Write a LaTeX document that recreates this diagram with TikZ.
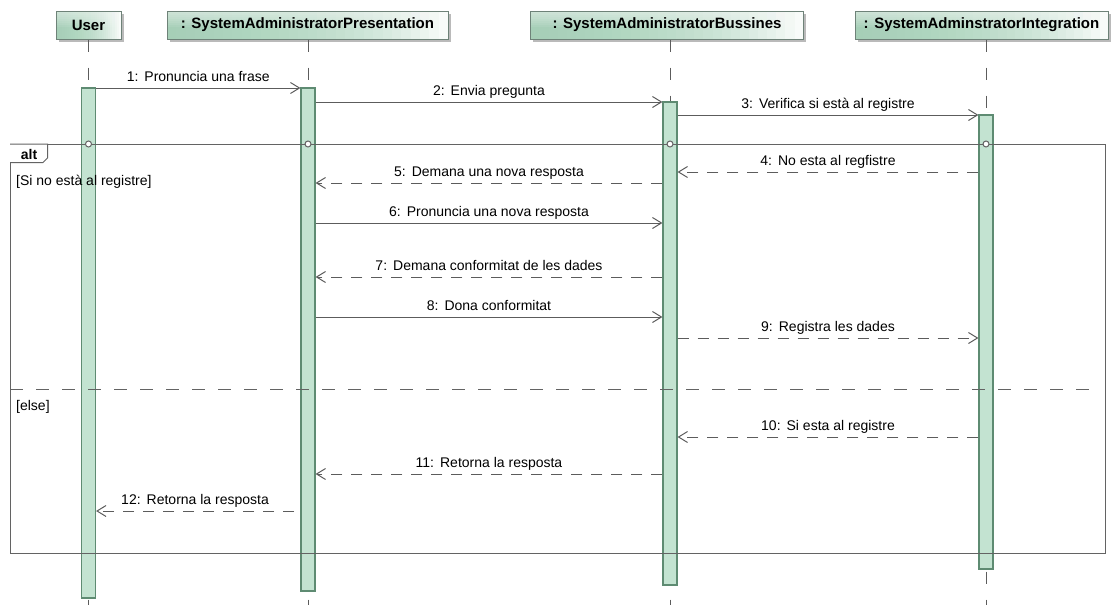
\documentclass[tikz,border=0pt]{standalone}
\usepackage{fontspec}
\setmainfont{Liberation Sans}
\usetikzlibrary{arrows.meta,shadows,calc}

\definecolor{barfill}{HTML}{C3E3D1}
\definecolor{barline}{HTML}{5E8B72}
\definecolor{hdrgreen}{HTML}{9FCFB3}
\definecolor{hdrline}{HTML}{6E8278}
\definecolor{wire}{HTML}{5C5C5C}
\definecolor{framecol}{HTML}{636363}

% wider gap after the sequence number
\newcommand\msgsep{\hspace{6pt}}

% gradient inside a header box: green towards the left, lighter towards the top
\newcommand\hdrgrad[1]{%
  \foreach \k in {1,...,30}{%
    \fill[hdrgreen, opacity=0.065]
      (#1.south west) rectangle ($(#1.north west)!{\k/30}!(#1.north east)$);
  }%
  \foreach \k in {1,...,8}{%
    \fill[white, opacity=0.08]
      (#1.north west) rectangle ($(#1.north east)!{\k/14}!(#1.south east)$);
  }%
}

\begin{document}
\begin{tikzpicture}[x=1pt,y=-1pt,
  hdrbase/.style={fill=white, minimum height=28pt, inner sep=0pt,
    drop shadow={shadow xshift=2.5pt, shadow yshift=-2.5pt, fill=black!45, opacity=0.6}},
  hdrtop/.style={draw=hdrline, line width=1pt, minimum height=28pt, inner sep=0pt,
    font=\fontsize{15}{18}\selectfont\bfseries},
  bar/.style={draw=barline, fill=barfill, line width=1.2pt, minimum width=14pt, inner sep=0pt},
  lifeline/.style={draw=wire, line width=1pt, dash pattern=on 12pt off 16pt},
  call/.style={draw=wire, line width=1pt, -{Straight Barb[length=9pt,width=11pt,line width=1pt]}},
  reply/.style={call, dash pattern=on 11pt off 9pt},
  lbl/.style={font=\fontsize{14}{17}\selectfont, inner sep=0pt, text=black},
  frame/.style={draw=framecol, line width=1pt},
]
\useasboundingbox (0,0) rectangle (1111,605);

% activation bars (also fix the lifeline positions)
\path
  node[bar, minimum height=510pt] (uA) at (88.5,343) {}
  node[bar, minimum height=503pt] (pA) at (308,339.5) {}
  node[bar, minimum height=483pt] (bA) at (670,343.5) {}
  node[bar, minimum height=454pt] (iA) at (986,342) {};

% participant header boxes: shadow and background
\node[hdrbase, minimum width=65pt]  (uH) at (88.5,25)  {};
\node[hdrbase, minimum width=281pt] (pH) at (307.5,25) {};
\node[hdrbase, minimum width=273pt] (bH) at (667,25)   {};
\node[hdrbase, minimum width=253pt] (iH) at (981.5,25) {};
\hdrgrad{uH}\hdrgrad{pH}\hdrgrad{bH}\hdrgrad{iH}
% participant header borders and names
\node[hdrtop, minimum width=65pt]  (uT) at (uH) {User};
\node[hdrtop, minimum width=281pt] (pT) at (pH) {: SystemAdministratorPresentation};
\node[hdrtop, minimum width=273pt] (bT) at (bH) {: SystemAdministratorBussines};
\node[hdrtop, minimum width=253pt] (iT) at (iH) {: SystemAdminstratorIntegration};

% lifelines
\foreach \a/\h in {uA/uT, pA/pT, bA/bT, iA/iT}
  \draw[lifeline] (\a |- \h.south) -- (\a |- 0,605);

% redraw the bars above the lifelines
\path
  node[bar, minimum height=510pt] at (uA) {}
  node[bar, minimum height=503pt] at (pA) {}
  node[bar, minimum height=483pt] at (bA) {}
  node[bar, minimum height=454pt] at (iA) {};

% combined fragment "alt"
\draw[frame] (10,144) rectangle (1105,553);
\draw[frame, dash pattern=on 13pt off 13pt] (10,389) -- (1092,389);
\foreach \a in {uA,pA,bA,iA}
  \draw[framecol, line width=1pt, fill=white] (\a |- 0,144) circle (3pt);
\draw[frame, fill=white] (10,144) -- (47.5,144) -- (47.5,158) -- (43,162.5) -- (10,162.5);
\node[lbl, font=\fontsize{14}{17}\selectfont\bfseries, anchor=base] (altlbl) at (29,159.5) {alt};
\node[lbl, anchor=base west] (g1) at (16,185) {[Si no està al registre]};
\node[lbl, anchor=base west] (g2) at (16,410) {[else]};

% messages
\draw[call] (uA.east |- 0,88) -- (pA.west |- 0,88)
  node[lbl, midway, anchor=base, yshift=7pt] {1:\msgsep Pronuncia una frase};
\draw[call] (pA.east |- 0,102) -- (bA.west |- 0,102)
  node[lbl, midway, anchor=base, yshift=7pt] {2:\msgsep Envia pregunta};
\draw[call] (bA.east |- 0,115) -- (iA.west |- 0,115)
  node[lbl, midway, anchor=base, yshift=7pt] {3:\msgsep Verifica si està al registre};
\draw[reply] (iA.west |- 0,172) -- (bA.east |- 0,172)
  node[lbl, midway, anchor=base, yshift=7pt] {4:\msgsep No esta al regfistre};
\draw[reply] (bA.west |- 0,183) -- (pA.east |- 0,183)
  node[lbl, midway, anchor=base, yshift=7pt] {5:\msgsep Demana una nova resposta};
\draw[call] (pA.east |- 0,223) -- (bA.west |- 0,223)
  node[lbl, midway, anchor=base, yshift=7pt] {6:\msgsep Pronuncia una nova resposta};
\draw[reply] (bA.west |- 0,277) -- (pA.east |- 0,277)
  node[lbl, midway, anchor=base, yshift=7pt] {7:\msgsep Demana conformitat de les dades};
\draw[call] (pA.east |- 0,317) -- (bA.west |- 0,317)
  node[lbl, midway, anchor=base, yshift=7pt] {8:\msgsep Dona conformitat};
\draw[reply] (bA.east |- 0,338) -- (iA.west |- 0,338)
  node[lbl, midway, anchor=base, yshift=7pt] {9:\msgsep Registra les dades};
\draw[reply] (iA.west |- 0,437) -- (bA.east |- 0,437)
  node[lbl, midway, anchor=base, yshift=7pt] {10:\msgsep Si esta al registre};
\draw[reply] (bA.west |- 0,474) -- (pA.east |- 0,474)
  node[lbl, midway, anchor=base, yshift=7pt] {11:\msgsep Retorna la resposta};
\coordinate (r12) at (294,511);
\draw[reply] (r12) -- (uA.east |- r12)
  node[lbl, midway, anchor=base, yshift=7pt] {12:\msgsep Retorna la resposta};
\end{tikzpicture}
\end{document}
